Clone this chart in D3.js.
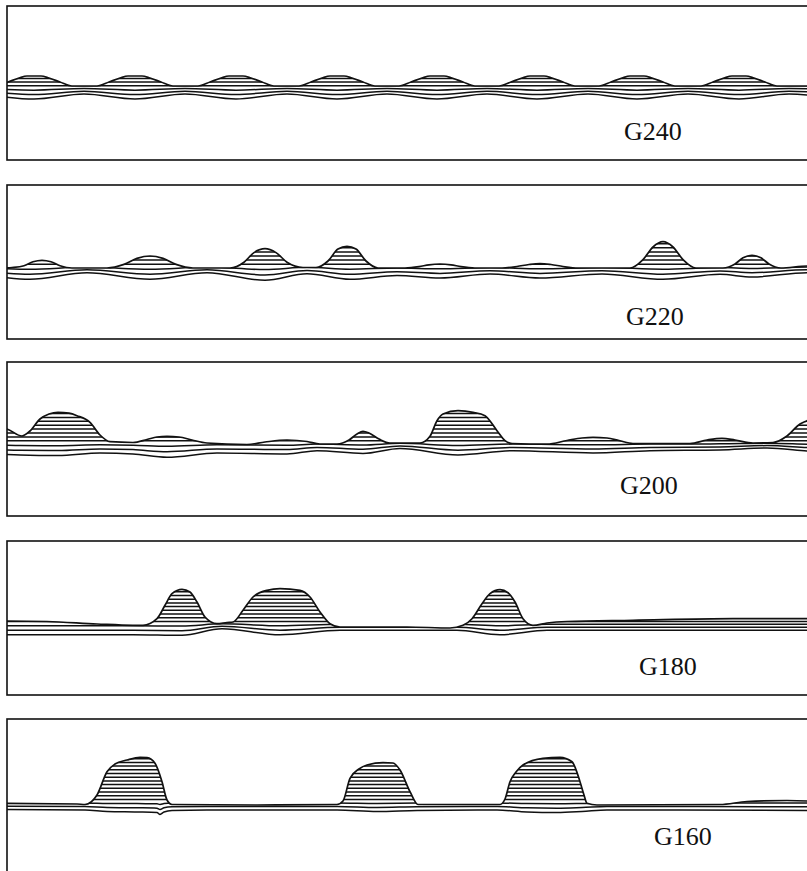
<!DOCTYPE html>
<html>
<head>
<meta charset="utf-8">
<script src="https://cdn.jsdelivr.net/npm/d3@7"></script>
<style>
  body { margin: 0; background: #fff; }
  svg { display: block; }
</style>
</head>
<body>
<div id="chart"></div>
<script>
// sample names, one panel each (top to bottom)
const samples = ['G240', 'G220', 'G200', 'G180', 'G160']

// top outline of every stack: [position, height]
const g240Top = [[-11,74],[1,78],[12,82],[20,84],[34,84],[42,82],[53,78],[65,74],
  [90,74],[102,78],[113,82],[121,84],[135,84],[143,82],[154,78],[166,74],
  [191,74],[203,78],[214,82],[222,84],[236,84],[244,82],[255,78],[267,74],
  [292,74],[304,78],[315,82],[323,84],[337,84],[345,82],[356,78],[368,74],
  [392,74],[404,78],[415,82],[423,84],[437,84],[445,82],[456,78],[468,74],
  [492,74],[504,78],[515,82],[523,84],[537,84],[545,82],[556,78],[568,74],
  [592,74],[604,78],[615,82],[623,84],[637,84],[645,82],[656,78],[668,74],
  [694,74],[706,78],[717,82],[725,84],[739,84],[747,82],[758,78],[770,74],[815,74]]
const g220Top = [[-5,71],[5,71.5],[17,73.3],[26,77.2],[35,78.7],[44,77.2],[53,73.3],[65,71],
  [100,71],[117,74.6],[130,80.6],[143,83],[156,80.6],[169,74.6],[186,71],
  [223,71],[237,76.8],[247,86.4],[258,90.3],[269,86.4],[280,76.8],[296,71.5],
  [309,71.5],[321,78],[331,90],[340,92.7],[349,90],[359,78],[371,71],
  [398,71],[412,72.3],[422,74.2],[433,75],[444,74.2],[454,72.3],[468,71],
  [495,71],[510,72.5],[522,74.5],[533,75.5],[544,74.5],[556,72.5],[571,71],
  [623,71],[636,79.4],[646,92],[656,97.3],[666,92],[676,79.4],[689,71],
  [716,71],[728,75],[736,81.2],[745,83.7],[754,81.2],[762,75],[774,71],[800,73],[815,73]]
const g200Top = [[-5,88],[0,87],[15,80],[23,85],[33,97],[42,102],[51,103.7],[62,102.8],[70,100.3],
  [83,93.7],[93,81],[103,74.3],[126,73.5],[140,76.5],[150,79],[160,79.7],[172,79],[185,76],[200,73],
  [240,71.5],[258,74],[280,76],[300,74.5],[313,72],[330,72],[342,76],[350,82],[356,84.7],[362,83],
  [372,77],[383,73],[413,73],[423,79.7],[430,95.3],[436,102],[451,105.3],[466,103.7],[478,100.3],
  [490,85.3],[498,75.3],[505,72.5],[540,72],[560,75.5],[575,78],[586,78.7],[600,78],[612,75.5],
  [626,72.5],[683,72.5],[700,76],[715,77.7],[728,76],[746,73],[766,73.5],[780,80],[793,92],
  [800,95.3],[812,101]]
const g180Top = [[-5,74],[0,74],[40,73.5],[90,71],[126,69.7],[136,69.7],[150,76.3],[158,89.7],
  [165,101.3],[175,105.7],[183,103],[190,93],[198,78],[210,71.3],[220,72.5],[226,73],[236,84.7],
  [246,98],[260,104.7],[273,106.3],[293,104.7],[303,98],[313,83],[323,71.3],[333,68],[400,68],
  [443,67],[456,69.7],[465,76.3],[475,91.3],[483,101.3],[493,105.3],[501,102.3],[508,93],
  [516,76.3],[526,69.7],[540,72],[560,73.5],[626,74.7],[726,76.3],[815,76.3]]
const g160Top = [[-5,69.7],[70,69],[78,68.5],[90,78],[100,101.3],[108,109],[120,113],[133,115.7],
  [140,115.3],[148,109.7],[155,91.3],[160,73],[165,68.5],[250,68],[330,68.5],[336,72],[343,94.7],
  [352,104],[360,108],[376,110.3],[386,110],[393,103],[403,81.3],[411,68.5],[493,68.5],[498,74],
  [503,91.3],[509,101],[516,108],[536,114.7],[553,115.7],[565,111.3],[573,91.3],[577,78],
  [580,69.7],[590,68],[713,68.5],[740,71.5],[780,72.5],[800,72],[815,70]]

// lowest layer line of every stack: [position, height]
const g240Floor = [[-24,66],[27,61],[77,66],[128,61],[178,66],[229,61],[280,66],[330,61],[380,66],
  [430,61],[480,66],[530,61],[581,66],[630,61],[681,66],[732,61],[782,66],[833,61]]
const g220Floor = [[-20,64],[23,59.7],[80,66.3],[143,59.7],[200,66.3],[258,58.7],[300,65.3],
  [343,59.7],[390,63.5],[433,61],[483,65],[533,61],[595,65],[656,59.7],[713,64.7],[745,62],
  [800,66.3],[830,64]]
const g200Floor = [[-10,62],[13,61],[51,60.5],[93,63],[126,62],[160,58.7],[210,63],[280,62],
  [310,65.3],[356,62.5],[393,67.5],[451,61],[506,65.3],[586,63],[643,65.3],[713,66],[760,68],
  [800,65],[815,64]]
const g180Floor = [[-10,60.3],[126,60.3],[175,59.7],[215,66.3],[273,60.3],[333,64.7],[450,64.7],
  [493,60.3],[540,64.7],[815,64.7]]
const g160Floor = [[-10,63.5],[78,63],[100,61.5],[130,61],[150,60.5],[153,58.5],[157,61],[165,62.5],
  [200,63],[330,63],[370,61.5],[410,62.5],[490,63],[520,61],[550,60.5],[575,61.5],[600,63],[815,62.5]]

const tops = [g240Top, g220Top, g200Top, g180Top, g160Top]
const floors = [g240Floor, g220Floor, g200Floor, g180Floor, g160Floor]

// mean level of the lowest line and spacing of the layers
const layerBase = [63.5, 62.5, 63.5, 62.5, 62.5]
const layerStep = [3.6, 4.1, 3.9, 3.7, 3.7]
// label position (along the panel, height above its bottom)
const labelX = [617, 619, 613, 632, 647]
const labelH = [20, 14, 22, 20, 28]

const W = 807, H = 871
const left = 7, panelH = 154
const panelTops = [6, 185, 362, 541, 719]
const sagLayers = 3

const svg = d3.select('#chart').append('svg')
  .attr('width', W)
  .attr('height', H)

const x = d3.scaleLinear().domain([0, 800]).range([left, left + 800])

samples.forEach(function (name, i) {
  let top = panelTops[i]
  let bottom = top + panelH
  let y = d3.scaleLinear().domain([0, panelH]).range([bottom, top])

  let g = svg.append('g')

  // panel clip
  g.append('clipPath').attr('id', 'panel' + i)
    .append('rect')
    .attr('x', left).attr('y', top)
    .attr('width', 820).attr('height', panelH)

  // area under the top outline
  let under = d3.area()
    .x(function (d) { return x(d[0]) })
    .y0(bottom)
    .y1(function (d) { return y(d[1]) })
    .curve(d3.curveMonotoneX)
  g.append('clipPath').attr('id', 'under' + i)
    .append('path')
    .attr('d', under(tops[i]))

  let line = d3.line()
    .x(function (d) { return x(d[0]) })
    .y(function (d) { return y(d[1]) })
    .curve(d3.curveMonotoneX)

  let inner = g.append('g').attr('clip-path', 'url(#panel' + i + ')')
  let layers = inner.append('g').attr('clip-path', 'url(#under' + i + ')')

  let base = layerBase[i]
  let step = layerStep[i]
  let maxTop = d3.max(tops[i], function (d) { return d[1] })
  let count = Math.ceil((maxTop - base) / step)
  for (let k = 0; k <= count; k++) {
    let sag = Math.max(0, 1 - k / sagLayers)
    let pts = floors[i].map(function (d) {
      return [d[0], base + k * step + (d[1] - base) * sag]
    })
    layers.append('path')
      .attr('d', line(pts))
      .attr('fill', 'none')
      .attr('stroke', '#111')
      .attr('stroke-width', 1.5)
  }

  inner.append('path')
    .attr('d', line(tops[i]))
    .attr('fill', 'none')
    .attr('stroke', '#111')
    .attr('stroke-width', 1.7)

  // frame, right side runs off the page
  g.append('rect')
    .attr('x', left).attr('y', top)
    .attr('width', 820).attr('height', panelH)
    .attr('fill', 'none')
    .attr('stroke', '#111')
    .attr('stroke-width', 1.6)

  g.append('text')
    .attr('x', x(labelX[i]))
    .attr('y', y(labelH[i]))
    .attr('font-family', 'Liberation Serif, Times New Roman, serif')
    .attr('font-size', 26)
    .attr('fill', '#111')
    .text(name)
})
</script>
</body>
</html>
